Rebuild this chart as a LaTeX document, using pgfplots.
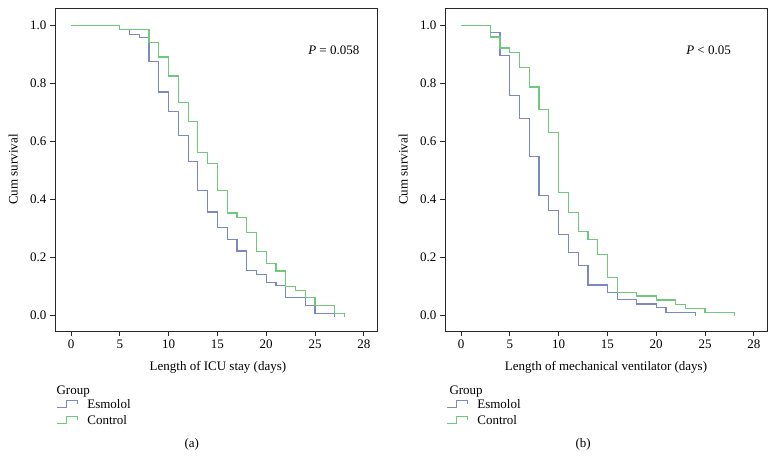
\documentclass[border=0pt]{standalone}
\usepackage{fontspec}
\setmainfont{Liberation Serif}
\usepackage{pgfplots}
\pgfplotsset{compat=1.18}

\definecolor{esm}{RGB}{122,136,196}
\definecolor{ctl}{RGB}{112,200,124}
\definecolor{axc}{RGB}{40,40,40}

\newcommand{\kmfont}{\fontsize{13}{15}\selectfont}

\pgfplotsset{
  km/.style={
    scale only axis, width=322pt, height=323pt,
    anchor=south west, clip mode=individual,
    xmin=-1.64, xmax=31.35, ymin=-0.055, ymax=1.06,
    xtick={0,5,10,15,20,25,30}, xticklabels={0,5,10,15,20,25,28},
    ytick={0,0.2,0.4,0.6,0.8,1.0},
    yticklabel style={/pgf/number format/.cd,fixed,fixed zerofill,precision=1},
    /pgf/number format/assume math mode=true,
    tick align=outside, xtick pos=left, ytick pos=left,
    major tick length=5pt,
    axis line style={axc, line width=0.8pt},
    tick style={axc, line width=0.8pt},
    tick label style={font=\kmfont},
    label style={font=\kmfont},
    ylabel={Cum survival},
    ylabel style={at={(axis description cs:-0.130,0.5)}, anchor=center},
    every axis plot/.append style={const plot, line width=1.2pt},
    legend image code/.code={%
      \draw[#1] (0pt,-3pt) -- (10pt,-3pt) -- (10pt,4pt) -- (21pt,4pt) -- (21pt,0pt);
      \path (28pt,0pt);},
    legend style={draw=none, fill=none, font=\kmfont,
      at={(axis description cs:0.003,-0.252)}, anchor=west,
      inner sep=0pt, row sep=1.5pt},
    legend cell align=left,
  }
}

\begin{document}
\begin{tikzpicture}
\useasboundingbox (0,0) rectangle (779pt,469pt);

% (a) ICU stay
\begin{axis}[km, at={(55pt,138pt)},
    xlabel={Length of ICU stay (days)},
    xlabel style={at={(axis description cs:0.506,-0.111)}, anchor=center}]
\addplot[esm] coordinates {
  (0,1) (5,0.985) (6,0.969) (7,0.957) (8,0.876) (9,0.770) (10,0.702)
  (11,0.620) (12,0.529) (13,0.431) (14,0.356) (15,0.301) (16,0.261)
  (17,0.221) (18,0.155) (19,0.140) (20,0.113) (21,0.101) (22,0.062)
  (24,0.033) (25,0.006) (27,0.006) (27,-0.005)};
\addlegendentry{Esmolol}
\addplot[ctl] coordinates {
  (0,1) (5,0.985) (8,0.941) (9,0.891) (10,0.825) (11,0.733) (12,0.667)
  (13,0.561) (14,0.522) (15,0.430) (16,0.352) (17,0.337) (18,0.286)
  (19,0.220) (20,0.178) (21,0.152) (22,0.098) (23,0.086) (24,0.061)
  (25,0.033) (27,0.006) (28,0.006) (28,-0.005)};
\addlegendentry{Control}
\node[anchor=base east, font=\kmfont] at (axis cs:29.9,0.90) {\textit{P} = 0.058};
\node[anchor=west, font=\kmfont] at (axis description cs:-0.006,-0.189) {Group};
\node[anchor=center, font=\kmfont] at (axis description cs:0.425,-0.350) {(a)};
\end{axis}

% (b) mechanical ventilation
\begin{axis}[km, at={(445pt,138pt)},
    xlabel={Length of mechanical ventilator (days)},
    xlabel style={at={(axis description cs:0.5,-0.111)}, anchor=center}]
\addplot[esm] coordinates {
  (0,1) (3,0.975) (4,0.895) (5,0.758) (6,0.679) (7,0.547) (8,0.413)
  (9,0.362) (10,0.279) (11,0.216) (12,0.171) (13,0.104) (15,0.078)
  (16,0.053) (18,0.038) (20,0.025) (21,0.009) (24,0.009) (24,-0.002)};
\addlegendentry{Esmolol}
\addplot[ctl] coordinates {
  (0,1) (3,0.960) (4,0.922) (5,0.906) (6,0.854) (7,0.787) (8,0.709)
  (9,0.631) (10,0.422) (11,0.355) (12,0.289) (13,0.261) (14,0.208)
  (15,0.131) (16,0.078) (18,0.066) (20,0.052) (22,0.037) (23,0.024)
  (25,0.009) (28,0.009) (28,-0.002)};
\addlegendentry{Control}
\node[anchor=base east, font=\kmfont] at (axis cs:28.0,0.90) {\textit{P} < 0.05};
\node[anchor=west, font=\kmfont] at (axis description cs:0.003,-0.189) {Group};
\node[anchor=center, font=\kmfont] at (axis description cs:0.429,-0.350) {(b)};
\end{axis}
\end{tikzpicture}
\end{document}
